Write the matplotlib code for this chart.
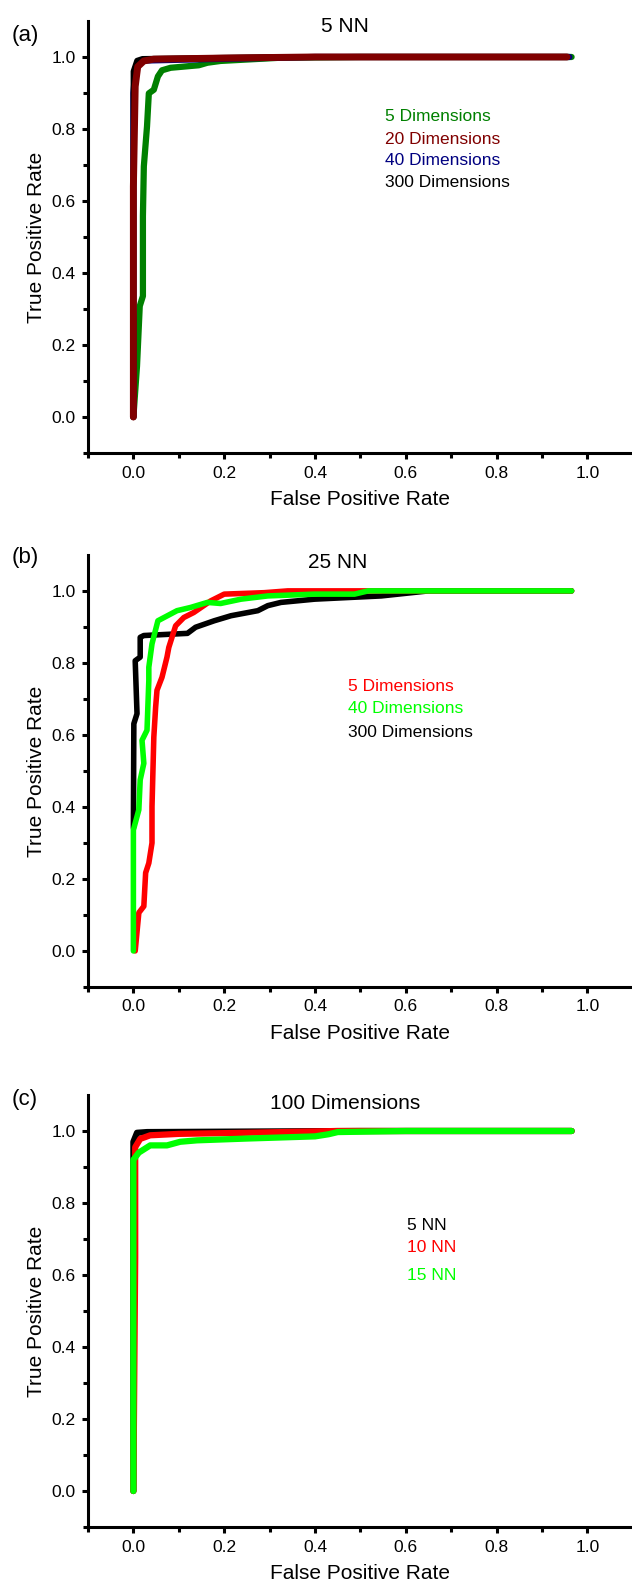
import numpy as np
import matplotlib.pyplot as plt
from matplotlib.ticker import FormatStrFormatter

plt.rcParams['font.family'] = ['Liberation Sans', 'DejaVu Sans']

# (a) 5 NN
a_x5 = [0.0, 0.008, 0.014, 0.021, 0.021, 0.023, 0.030, 0.034, 0.045, 0.054, 0.063, 0.082, 0.144, 0.163, 0.192, 0.325, 0.5, 0.965]
a_y5 = [0.0, 0.142, 0.308, 0.336, 0.558, 0.696, 0.807, 0.899, 0.909, 0.946, 0.963, 0.970, 0.977, 0.984, 0.989, 0.998, 1.0, 1.0]
a_x20 = [0.0, 0.0, 0.004, 0.0095, 0.023, 0.045, 0.2, 0.4, 0.955]
a_y20 = [0.0, 0.64, 0.918, 0.973, 0.989, 0.994, 0.997, 1.0, 1.0]
a_x40 = [0.0, 0.0, 0.005, 0.02, 0.2, 0.4, 0.96]
a_y40 = [0.0, 0.9, 0.97, 0.99, 0.995, 1.0, 1.0]
a_x300 = [0.0, 0.0, 0.0, 0.008, 0.02, 0.3, 0.95]
a_y300 = [0.0, 0.65, 0.96, 0.99, 0.995, 1.0, 1.0]

# (b) 25 NN
b_x5 = [0.004, 0.012, 0.023, 0.027, 0.034, 0.041, 0.041, 0.045, 0.049, 0.052, 0.063, 0.074, 0.078, 0.093, 0.111, 0.133, 0.170, 0.200, 0.288, 0.34, 0.965]
b_y5 = [0.0, 0.106, 0.124, 0.217, 0.244, 0.300, 0.401, 0.594, 0.677, 0.724, 0.760, 0.816, 0.843, 0.903, 0.926, 0.940, 0.972, 0.991, 0.995, 1.0, 1.0]
b_x40 = [0.0, 0.0, 0.012, 0.015, 0.023, 0.019, 0.030, 0.034, 0.034, 0.041, 0.054, 0.096, 0.126, 0.163, 0.192, 0.237, 0.296, 0.399, 0.487, 0.517, 0.965]
b_y40 = [0.0, 0.336, 0.392, 0.475, 0.521, 0.585, 0.613, 0.751, 0.788, 0.853, 0.917, 0.945, 0.954, 0.968, 0.965, 0.977, 0.986, 0.991, 0.991, 1.0, 1.0]
b_x300 = [0.0, 0.001, 0.008, 0.004, 0.015, 0.015, 0.023, 0.119, 0.137, 0.178, 0.215, 0.274, 0.296, 0.325, 0.399, 0.546, 0.65, 0.965]
b_y300 = [0.341, 0.631, 0.659, 0.806, 0.816, 0.871, 0.876, 0.882, 0.899, 0.917, 0.931, 0.945, 0.959, 0.968, 0.977, 0.986, 1.0, 1.0]

# (c) 100 Dimensions
c_x5 = [0.0, 0.0, 0.008, 0.03, 0.5, 0.965]
c_y5 = [0.0, 0.97, 0.995, 0.997, 1.0, 1.0]
c_x10 = [0.0, 0.004, 0.004, 0.015, 0.037, 0.10, 0.25, 0.45, 0.965]
c_y10 = [0.0, 0.65, 0.955, 0.978, 0.988, 0.992, 0.995, 1.0, 1.0]
c_x15 = [0.0, 0.0, 0.012, 0.037, 0.074, 0.103, 0.14, 0.25, 0.4, 0.43, 0.45, 0.6, 0.965]
c_y15 = [0.0, 0.92, 0.94, 0.96, 0.96, 0.97, 0.974, 0.979, 0.985, 0.991, 0.997, 1.0, 1.0]

fig = plt.figure(figsize=(6.32, 15.89), dpi=100)
ax1 = fig.add_axes([0.1392, 0.7149, 0.8608, 0.2719])
ax2 = fig.add_axes([0.1392, 0.3789, 0.8608, 0.2719])
ax3 = fig.add_axes([0.1392, 0.0390, 0.8608, 0.2719])

kw = dict(solid_capstyle='round', solid_joinstyle='round')

ax1.plot(a_x5, a_y5, color='#008000', lw=4.5, **kw)
ax1.plot(a_x40, a_y40, color='#000080', lw=4.5, **kw)
ax1.plot(a_x300, a_y300, color='black', lw=4.0, **kw)
ax1.plot(a_x20, a_y20, color='#800000', lw=5.0, **kw)

ax2.plot(b_x300, b_y300, color='black', lw=4.0, **kw)
ax2.plot(b_x5, b_y5, color='#ff0000', lw=4.0, **kw)
ax2.plot(b_x40, b_y40, color='#00ff00', lw=4.0, **kw)

ax3.plot(c_x5, c_y5, color='black', lw=4.5, **kw)
ax3.plot(c_x10, c_y10, color='#ff0000', lw=4.5, **kw)
ax3.plot(c_x15, c_y15, color='#00ff00', lw=4.5, **kw)

for ax in (ax1, ax2, ax3):
    ax.set_xlim(-0.1, 1.098)
    ax.set_ylim(-0.1, 1.1)
    ax.spines['top'].set_visible(False)
    ax.spines['right'].set_visible(False)
    ax.spines['left'].set_linewidth(2.2)
    ax.spines['bottom'].set_linewidth(2.2)
    ax.set_xticks(np.arange(0, 1.01, 0.2))
    ax.set_xticks([-0.1, 0.1, 0.3, 0.5, 0.7, 0.9], minor=True)
    ax.set_yticks(np.arange(0, 1.01, 0.2))
    ax.set_yticks([-0.1, 0.1, 0.3, 0.5, 0.7, 0.9], minor=True)
    ax.xaxis.set_major_formatter(FormatStrFormatter('%.1f'))
    ax.yaxis.set_major_formatter(FormatStrFormatter('%.1f'))
    ax.tick_params(which='major', direction='out', length=4.5, width=2.2, labelsize=12.5, pad=4.5)
    ax.tick_params(which='minor', direction='out', length=3.5, width=2.2)
    ax.set_xlabel('False Positive Rate', fontsize=15, labelpad=7)
    ax.set_ylabel('True Positive Rate', fontsize=15)

ax1.text(0.465, 1.085, '5 NN', fontsize=15, ha='center', va='center')
ax1.text(0.555, 0.835, '5 Dimensions', color='#008000', fontsize=12.5, va='center')
ax1.text(0.555, 0.770, '20 Dimensions', color='#800000', fontsize=12.5, va='center')
ax1.text(0.555, 0.712, '40 Dimensions', color='#000080', fontsize=12.5, va='center')
ax1.text(0.555, 0.652, '300 Dimensions', color='black', fontsize=12.5, va='center')

ax2.text(0.45, 1.08, '25 NN', fontsize=15, ha='center', va='center')
ax2.text(0.472, 0.735, '5 Dimensions', color='#ff0000', fontsize=12.5, va='center')
ax2.text(0.472, 0.672, '40 Dimensions', color='#00ff00', fontsize=12.5, va='center')
ax2.text(0.472, 0.608, '300 Dimensions', color='black', fontsize=12.5, va='center')

ax3.text(0.467, 1.075, '100 Dimensions', fontsize=15, ha='center', va='center')
ax3.text(0.603, 0.738, '5 NN', color='black', fontsize=12.5, va='center')
ax3.text(0.603, 0.677, '10 NN', color='#ff0000', fontsize=12.5, va='center')
ax3.text(0.603, 0.600, '15 NN', color='#00ff00', fontsize=12.5, va='center')

fig.text(25 / 632, 1 - 35 / 1589, '(a)', fontsize=16, ha='center', va='center')
fig.text(25 / 632, 1 - 558 / 1589, '(b)', fontsize=16, ha='center', va='center')
fig.text(25 / 632, 1 - 1100 / 1589, '(c)', fontsize=16, ha='center', va='center')

fig.savefig('out.png', dpi=100)
